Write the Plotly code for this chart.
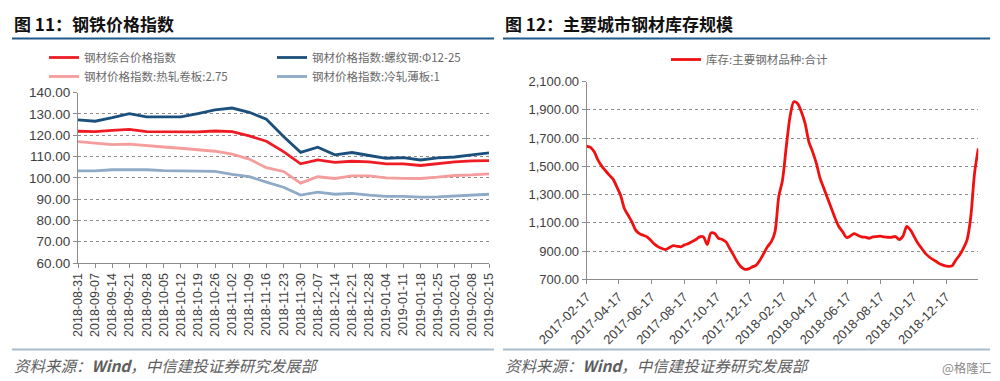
import plotly.graph_objects as go
import pandas as pd

# ---------------- data: figure 11 (weekly steel price indices) ----------------
dates_l = ["2018-08-31", "2018-09-07", "2018-09-14", "2018-09-21", "2018-09-28",
           "2018-10-05", "2018-10-12", "2018-10-19", "2018-10-26", "2018-11-02",
           "2018-11-09", "2018-11-16", "2018-11-23", "2018-11-30", "2018-12-07",
           "2018-12-14", "2018-12-21", "2018-12-28", "2019-01-04", "2019-01-11",
           "2019-01-18", "2019-01-25", "2019-02-01", "2019-02-08", "2019-02-15"]
composite = [121.9, 121.7, 122.3, 122.8, 121.7, 121.6, 121.4, 121.6, 122.0, 121.7,
             119.7, 117.2, 112.3, 106.6, 108.4, 107.3, 107.8, 107.5, 106.6, 106.6,
             105.8, 106.7, 107.5, 108.0, 108.1]
rebar = [127.2, 126.6, 128.3, 130.2, 128.6, 128.6, 128.6, 130.2, 131.9, 132.8,
         130.8, 127.5, 119.4, 112.0, 114.4, 110.8, 111.9, 110.5, 109.2, 109.5,
         108.4, 109.4, 109.8, 110.8, 111.7]
hot_rolled = [117.0, 116.3, 115.6, 115.8, 115.0, 114.5, 113.9, 113.1, 112.5, 111.1,
              108.8, 104.8, 103.0, 97.5, 100.5, 99.7, 100.9, 100.9, 100.0, 99.8,
              99.7, 100.3, 101.1, 101.4, 101.9]
cold_rolled = [103.3, 103.3, 103.8, 103.9, 103.8, 103.4, 103.3, 103.0, 103.0, 101.6,
               100.6, 98.0, 95.6, 91.9, 93.3, 92.3, 92.7, 91.9, 91.3, 91.3,
               90.9, 91.1, 91.4, 91.9, 92.3]
names_l = ["钢材综合价格指数", "钢材价格指数:螺纹钢:Φ12-25",
           "钢材价格指数:热轧卷板:2.75", "钢材价格指数:冷轧薄板:1"]

# ---------------- data: figure 12 (weekly inventory, main cities) ----------------
inv_start = "2017-02-17"
inventory = [1644, 1634, 1603, 1544, 1502, 1469, 1438, 1410, 1355, 1296,
             1202, 1154, 1107, 1048, 1024, 1012, 1001, 977, 949, 930,
             918, 911, 925, 939, 934, 930, 944, 953, 967, 982,
             1001, 1001, 946, 1029, 1024, 991, 982, 965, 918, 871,
             823, 788, 771, 774, 788, 800, 835, 882, 930, 965,
             1036, 1284, 1402, 1639, 1852, 1958, 1946, 1887, 1804, 1674,
             1603, 1521, 1414, 1343, 1272, 1202, 1131, 1072, 1036, 996,
             1006, 1024, 1012, 1001, 998, 991, 1001, 1003, 1006, 1001,
             998, 998, 1003, 982, 1006, 1075, 1048, 1001, 953, 918,
             882, 858, 839, 823, 806, 797, 792, 795, 835, 871,
             918, 977, 1143, 1450, 1627]
dates_r = pd.date_range(inv_start, periods=len(inventory), freq="7D").strftime("%Y-%m-%d").tolist()
name_r = "库存:主要钢材品种:合计"
ticks_r = ["2017-02-17", "2017-04-17", "2017-06-17", "2017-08-17", "2017-10-17",
           "2017-12-17", "2018-02-17", "2018-04-17", "2018-06-17", "2018-08-17",
           "2018-10-17", "2018-12-17"]
yticks_l = [60, 70, 80, 90, 100, 110, 120, 130, 140]
yticks_r = [700, 900, 1100, 1300, 1500, 1700, 1900, 2100]

# ---------------- styles ----------------
# the page body has an 8px default margin, so the figure is 992x373 and
# reference pixel positions are shifted by 8px
OFF = 8
W, H = 1000 - OFF, 381 - OFF
colors_l = ["#EE1C25", "#1B4F7C", "#F59C9C", "#8EAAC6"]
legend_of = ["legend", "legend2", "legend", "legend2"]
series_l = [composite, rebar, hot_rolled, cold_rolled]
TICKFONT = dict(family="Liberation Sans, Arial, sans-serif", size=13, color="#404040")
CJK = "Noto Sans CJK SC"
LEGFONT = dict(family=CJK, size=11.5, color="#6A6A6A")

fig = go.Figure()
for s, n, c, lg in zip(series_l, names_l, colors_l, legend_of):
    fig.add_trace(go.Scatter(x=dates_l, y=s, name=n, mode="lines",
                             line=dict(color=c, width=2.8), legend=lg,
                             xaxis="x", yaxis="y"))
fig.add_trace(go.Scatter(x=dates_r, y=inventory, name=name_r, mode="lines",
                         line=dict(color="#F01010", width=2.8, shape="spline", smoothing=0.8),
                         legend="legend3", xaxis="x2", yaxis="y2"))

def px(v):
    return (v - OFF) / W

def py(v):
    return 1 - (v - OFF) / H

grid = dict(showgrid=True, gridcolor="#8C8C8C", griddash="dot", gridwidth=1)
axline = dict(showline=True, linecolor="#8C8C8C", linewidth=1, automargin=False,
              ticks="outside", ticklen=4, tickcolor="#8C8C8C")
fig.update_layout(
    width=W, height=H, autosize=False,
    margin=dict(l=0, r=0, t=0, b=0, autoexpand=False),
    paper_bgcolor="white", plot_bgcolor="white",
    showlegend=True,
    xaxis=dict(domain=[px(78), px(489)], anchor="y", type="category",
               range=[0, len(dates_l) - 1], tickmode="linear", tick0=0, dtick=1,
               tickangle=-90, tickfont=dict(TICKFONT, size=12.5), showgrid=False, **axline),
    yaxis=dict(domain=[py(263), py(92.7)], anchor="x", range=[60, 140],
               tickvals=yticks_l, tickformat=".2f", tickfont=dict(TICKFONT, size=13.5),
               zeroline=False, **grid, **axline),
    xaxis2=dict(domain=[px(586.7), px(978.3)], anchor="y2", type="date",
                range=[dates_r[0], dates_r[-1]], tickvals=ticks_r, ticktext=ticks_r,
                tickangle=-45, tickfont=TICKFONT, showgrid=False, **axline),
    yaxis2=dict(domain=[py(279.3), py(81.7)], anchor="x2", range=[700, 2100],
                tickvals=yticks_r, tickformat=",.2f", tickfont=TICKFONT,
                zeroline=False, **grid, **axline),
    legend=dict(x=px(44), y=py(43), xanchor="left", yanchor="top",
                font=LEGFONT, bgcolor="rgba(0,0,0,0)", tracegroupgap=0),
    legend2=dict(x=px(272), y=py(43), xanchor="left", yanchor="top",
                 font=LEGFONT, bgcolor="rgba(0,0,0,0)", tracegroupgap=0),
    legend3=dict(x=px(666), y=py(45), xanchor="left", yanchor="top",
                 font=LEGFONT, bgcolor="rgba(0,0,0,0)"),
)

# titles, rules and source notes
fig.add_annotation(text="<b>图 11：钢铁价格指数</b>", x=px(12), y=py(23), xref="paper", yref="paper",
                   xanchor="left", yanchor="middle", showarrow=False,
                   font=dict(family=CJK, size=17, color="#111111"))
fig.add_annotation(text="<b>图 12：主要城市钢材库存规模</b>", x=px(503), y=py(23), xref="paper", yref="paper",
                   xanchor="left", yanchor="middle", showarrow=False,
                   font=dict(family=CJK, size=17, color="#111111"))
src = "<i>资料来源：<b>Wind</b>，中信建投证券研究发展部</i>"
for x0 in (12, 503):
    fig.add_annotation(text=src, x=px(x0), y=py(365), xref="paper", yref="paper",
                       xanchor="left", yanchor="middle", showarrow=False,
                       font=dict(family=CJK, size=15.5, color="#5E5E5E"))
fig.add_annotation(text="@格隆汇", x=px(993), y=py(367), xref="paper", yref="paper",
                   xanchor="right", yanchor="middle", showarrow=False,
                   font=dict(family=CJK, size=12.5, color="#8A8A8A"))
for a, b in ((12, 494), (503, 990)):
    fig.add_shape(type="line", xref="paper", yref="paper", x0=px(a), x1=px(b),
                  y0=py(38.5), y1=py(38.5), line=dict(color="#1F5A8A", width=2))
    fig.add_shape(type="line", xref="paper", yref="paper", x0=px(a), x1=px(b),
                  y0=py(349.5), y1=py(349.5), line=dict(color="#A8BBCE", width=2))

fig.write_html("out.html")
